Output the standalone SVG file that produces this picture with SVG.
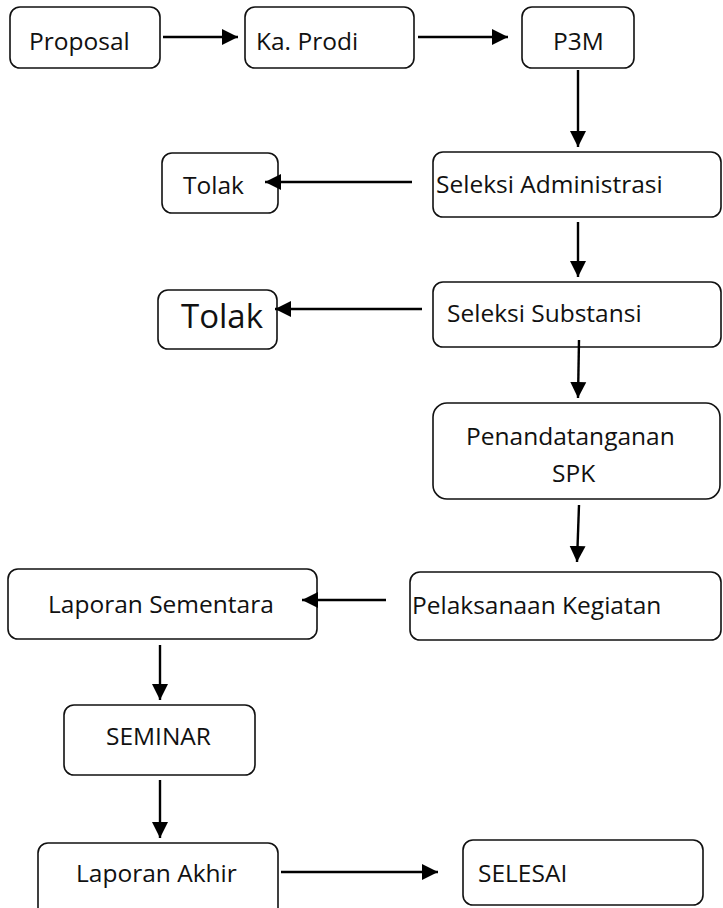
<svg xmlns="http://www.w3.org/2000/svg" width="723" height="908" viewBox="0 0 723 908">
<defs>
<style>
.box{fill:#fff;stroke:#111;stroke-width:1.6}
.t{font-family:"Open Sans","Liberation Sans",sans-serif;font-size:24.5px;fill:#111}
.big{font-size:33px}
.c{stroke:#000;stroke-width:2.4;fill:none;marker-end:url(#ah)}
</style>
<marker id="ah" markerUnits="userSpaceOnUse" markerWidth="17" markerHeight="17" viewBox="0 0 17 17" refX="16" refY="8.5" orient="auto">
<path d="M0,0.5 L16,8.5 L0,16.5 Z" fill="#000"/>
</marker>
</defs>
<rect width="723" height="908" fill="#fff"/>
<g id="proposal"><rect class="box" x="10" y="7" width="150" height="61" rx="10"/><text class="t" x="29" y="50">Proposal</text></g>
<g id="kaprodi"><rect class="box" x="245" y="7" width="169" height="61" rx="10"/><text class="t" x="256" y="50">Ka. Prodi</text></g>
<g id="p3m"><rect class="box" x="522" y="7" width="112" height="61" rx="10"/><text class="t" x="553" y="50">P3M</text></g>
<g id="seleksi-administrasi"><rect class="box" x="433" y="152" width="288" height="65" rx="10"/><text class="t" x="436" y="193">Seleksi Administrasi</text></g>
<g id="tolak1"><rect class="box" x="162" y="153" width="116" height="60" rx="10"/><text class="t" x="183" y="194">Tolak</text></g>
<g id="seleksi-substansi"><rect class="box" x="433" y="282" width="288" height="65" rx="10"/><text class="t" x="447" y="322">Seleksi Substansi</text></g>
<g id="tolak2"><rect class="box" x="158" y="290" width="119" height="59" rx="10"/><text class="t big" x="181" y="328">Tolak</text></g>
<g id="penandatanganan"><rect class="box" x="433" y="403" width="287" height="96" rx="14"/><text class="t" x="466" y="445">Penandatanganan</text><text class="t" x="552" y="482">SPK</text></g>
<g id="pelaksanaan"><rect class="box" x="410" y="572" width="311" height="68" rx="10"/><text class="t" x="412" y="614">Pelaksanaan Kegiatan</text></g>
<g id="laporan-sementara"><rect class="box" x="8" y="569" width="309" height="70" rx="10"/><text class="t" x="48" y="613">Laporan Sementara</text></g>
<g id="seminar"><rect class="box" x="64" y="705" width="191" height="70" rx="10"/><text class="t" x="106" y="745">SEMINAR</text></g>
<g id="laporan-akhir"><rect class="box" x="38" y="843" width="240" height="80" rx="10"/><text class="t" x="76" y="882">Laporan Akhir</text></g>
<g id="selesai"><rect class="box" x="463" y="840" width="240" height="65" rx="10"/><text class="t" x="478" y="882">SELESAI</text></g>
<g id="connectors">
<line class="c" x1="163" y1="37" x2="238" y2="37"/>
<line class="c" x1="418" y1="37" x2="508" y2="37"/>
<line class="c" x1="578" y1="70" x2="578" y2="147"/>
<line class="c" x1="412" y1="182" x2="265" y2="182"/>
<line class="c" x1="578" y1="222" x2="578" y2="277"/>
<line class="c" x1="422" y1="309" x2="275" y2="309"/>
<line class="c" x1="579" y1="340" x2="578" y2="398"/>
<line class="c" x1="579" y1="505" x2="577" y2="562"/>
<line class="c" x1="386" y1="600" x2="302" y2="600"/>
<line class="c" x1="160" y1="645" x2="160" y2="700"/>
<line class="c" x1="160" y1="780" x2="160" y2="838"/>
<line class="c" x1="281" y1="872" x2="438" y2="872"/>
</g>
</svg>
